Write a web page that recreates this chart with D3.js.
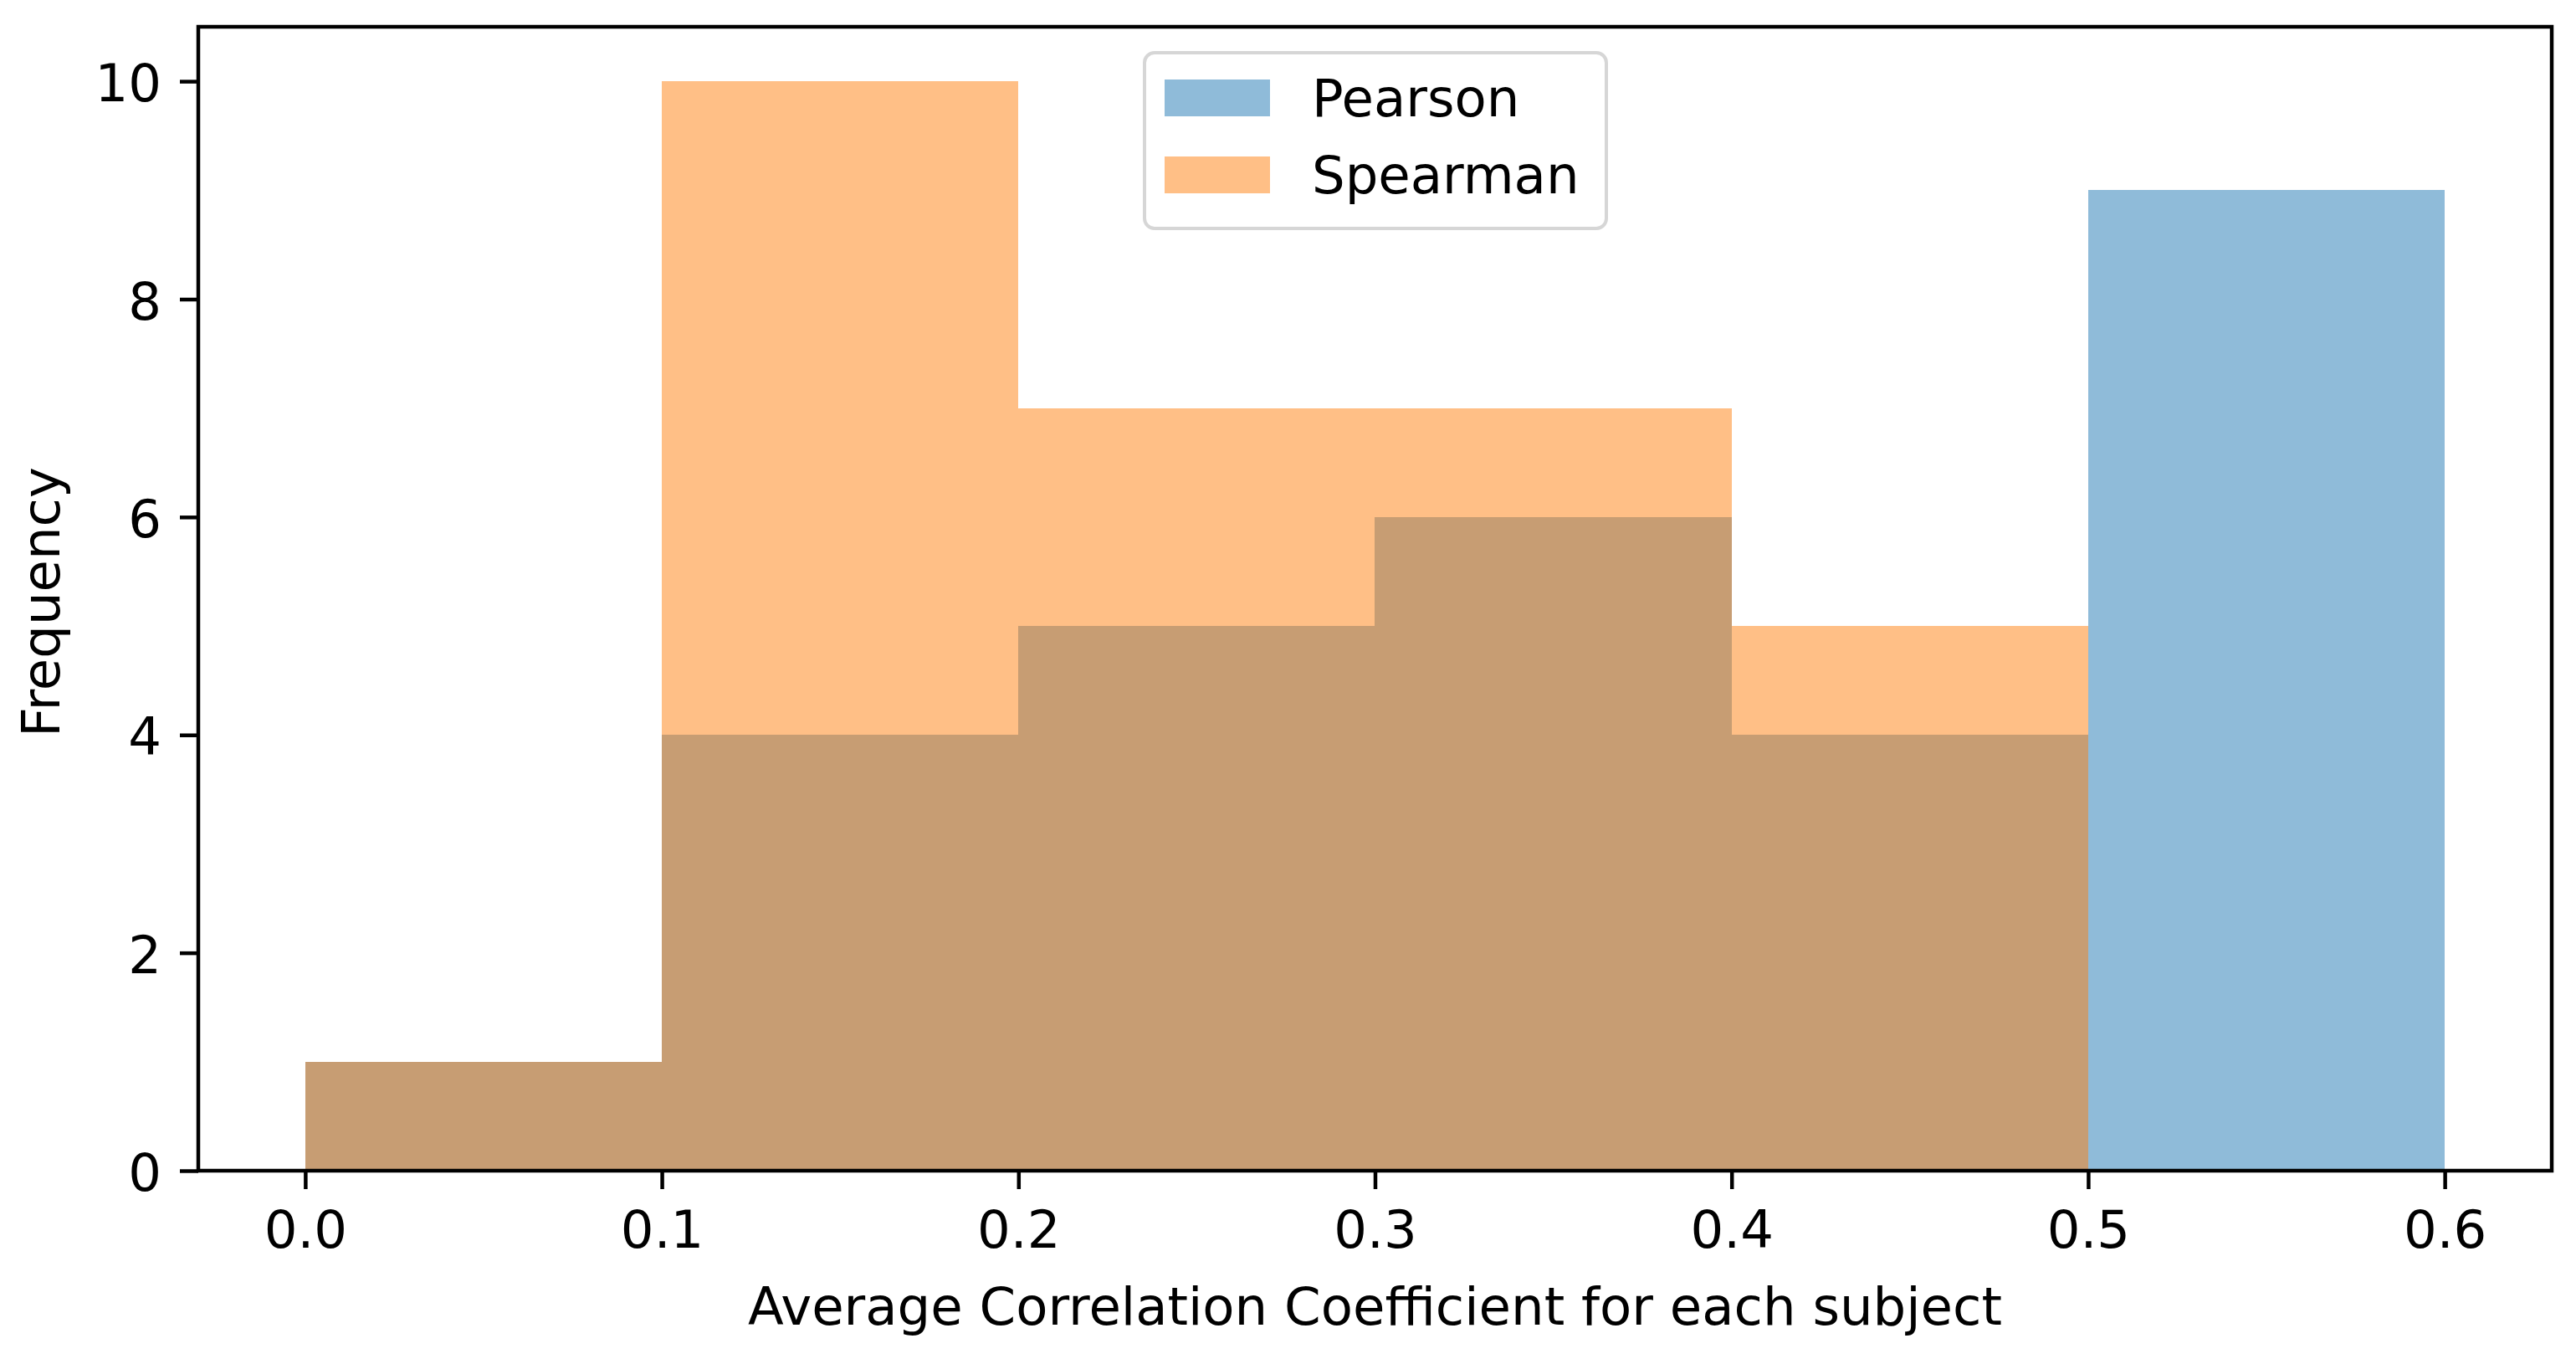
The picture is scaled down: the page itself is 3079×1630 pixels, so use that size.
<!DOCTYPE html>
<html>
<head>
<meta charset="utf-8">
<script src="https://cdn.jsdelivr.net/npm/d3@7"></script>
<style>
  body { margin: 0; background: #ffffff; }
  svg  { display: block; }
  text { font-family: "DejaVu Sans", sans-serif; fill: #000000; }
</style>
</head>
<body>
<div id="chart"></div>
<script>

// Histogram bins and counts
var binEdges       = [0.0, 0.1, 0.2, 0.3, 0.4, 0.5, 0.6];
var pearsonCounts  = [1, 4, 5, 6, 4, 9];
var spearmanCounts = [1, 10, 7, 7, 5, 0];

var seriesLabels  = ["Pearson", "Spearman"];
var seriesColours = ["#1f77b4", "#ff7f0e"];

var xTicks = [0.0, 0.1, 0.2, 0.3, 0.4, 0.5, 0.6];
var yTicks = [0, 2, 4, 6, 8, 10];

var xLabel = "Average Correlation Coefficient for each subject";
var yLabel = "Frequency";

var width    = 3079;
var height   = 1630;
var fontSize = 62.5;

// plot area, in pixels
var plot = {left: 237, right: 3050, top: 32, bottom: 1399};

var svg = d3.select("#chart").append("svg")
  .attr("width",  width)
  .attr("height", height);

var x = d3.scaleLinear()
  .domain([-0.03, 0.63])
  .range([plot.left, plot.right]);

var y = d3.scaleLinear()
  .domain([0, 10.5])
  .range([plot.bottom, plot.top]);

/*
 * Draw one histogram series as a set of bars, one per bin
 */
function drawBars(counts, colour) {

  var bins = counts.map(function(c, i) {
    return {x0: binEdges[i], x1: binEdges[i + 1], count: c};
  });

  svg.append("g")
    .attr("shape-rendering", "crispEdges")
    .selectAll("rect")
    .data(bins)
    .enter()
    .append("rect")
    .attr("x",            function(d) { return Math.round(x(d.x0)); })
    .attr("y",            function(d) { return Math.round(y(d.count)); })
    .attr("width",        function(d) { return Math.round(x(d.x1)) - Math.round(x(d.x0)); })
    .attr("height",       function(d) { return Math.round(y(0)) - Math.round(y(d.count)); })
    .attr("fill",         colour)
    .attr("fill-opacity", 0.5);
}

drawBars(pearsonCounts,  seriesColours[0]);
drawBars(spearmanCounts, seriesColours[1]);

// axes - the spines are drawn separately as a frame
var xAxis = d3.axisBottom(x)
  .tickValues(xTicks)
  .tickFormat(d3.format(".1f"))
  .tickSize(22)
  .tickSizeOuter(0)
  .tickPadding(26);

var yAxis = d3.axisLeft(y)
  .tickValues(yTicks)
  .tickFormat(d3.format("d"))
  .tickSize(22)
  .tickSizeOuter(0)
  .tickPadding(22);

var gx = svg.append("g")
  .attr("transform", "translate(0," + plot.bottom + ")")
  .call(xAxis);

var gy = svg.append("g")
  .attr("transform", "translate(" + plot.left + ",0)")
  .call(yAxis);

[gx, gy].forEach(function(g) {
  g.select(".domain").remove();
  g.selectAll(".tick line")
    .attr("stroke",       "#000000")
    .attr("stroke-width", 4.5);
  g.selectAll(".tick text")
    .attr("font-family", "DejaVu Sans")
    .attr("font-size",   fontSize)
    .attr("fill",        "#000000");
});

gy.selectAll(".tick text").attr("dy", "0.38em");

// frame around the plot area
svg.append("rect")
  .attr("x",            plot.left)
  .attr("y",            plot.top)
  .attr("width",        plot.right - plot.left)
  .attr("height",       plot.bottom - plot.top)
  .attr("fill",         "none")
  .attr("stroke",       "#000000")
  .attr("stroke-width", 4.5);

// axis labels
svg.append("text")
  .attr("x",           (plot.left + plot.right) / 2)
  .attr("y",           1583)
  .attr("font-size",   fontSize)
  .attr("text-anchor", "middle")
  .text(xLabel);

svg.append("text")
  .attr("transform",   "translate(71," + ((plot.top + plot.bottom) / 2 + 4) + ") rotate(-90)")
  .attr("font-size",   fontSize)
  .attr("text-anchor", "middle")
  .text(yLabel);

// legend, centred at the top of the plot
var legend = svg.append("g");

legend.append("rect")
  .attr("x",              1368)
  .attr("y",              63)
  .attr("width",          552)
  .attr("height",         210)
  .attr("rx",             12)
  .attr("ry",             12)
  .attr("fill",           "#ffffff")
  .attr("fill-opacity",   0.8)
  .attr("stroke",         "#cccccc")
  .attr("stroke-opacity", 0.8)
  .attr("stroke-width",   4);

seriesLabels.forEach(function(label, i) {

  var rowBase = 139 + i * 92;

  legend.append("rect")
    .attr("x",            1392)
    .attr("y",            rowBase - 44)
    .attr("width",        126)
    .attr("height",       44)
    .attr("fill",         seriesColours[i])
    .attr("fill-opacity", 0.5);

  legend.append("text")
    .attr("x",         1568)
    .attr("y",         rowBase)
    .attr("font-size", fontSize)
    .text(label);
});

</script>
</body>
</html>
